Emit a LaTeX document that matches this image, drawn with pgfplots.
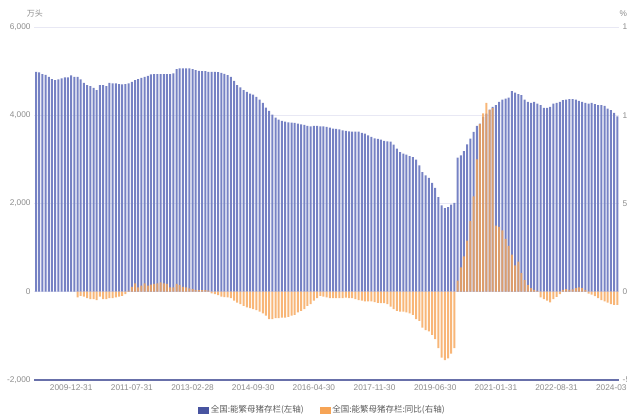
\documentclass[border=0pt]{standalone}
\usepackage{pgfplots}
\pgfplotsset{compat=1.18}
\usepackage{pgfplotstable}
\usepackage{fontspec}
\setmainfont{Liberation Sans}
\newfontfamily\cjk{Noto Sans CJK SC}
\definecolor{cblue}{RGB}{118,130,196}
\definecolor{cbluelg}{RGB}{72,84,160}
\definecolor{corange}{RGB}{246,164,86}
\definecolor{cgrid}{RGB}{232,232,244}
\definecolor{caxis}{RGB}{104,112,170}
\definecolor{ctext}{RGB}{140,140,140}
\definecolor{clegtext}{RGB}{90,90,90}

\pgfplotstableread{
i v
0 4985
1 4970
2 4932
3 4917
4 4871
5 4818
6 4795
7 4811
8 4833
9 4856
10 4856
11 4901
12 4871
13 4871
14 4811
15 4735
16 4682
17 4659
18 4620
19 4568
20 4682
21 4682
22 4659
23 4735
24 4720
25 4720
26 4705
27 4697
28 4705
29 4720
30 4758
31 4795
32 4818
33 4848
34 4871
35 4894
36 4924
37 4932
38 4932
39 4932
40 4932
41 4932
42 4932
43 4947
44 5045
45 5061
46 5061
47 5061
48 5061
49 5045
50 5023
51 5008
52 5000
53 5000
54 4985
55 4985
56 4985
57 4977
58 4962
59 4940
60 4909
61 4871
62 4780
63 4682
64 4629
65 4568
66 4530
67 4492
68 4470
69 4417
70 4356
71 4280
72 4174
73 4098
74 4015
75 3947
76 3902
77 3871
78 3856
79 3841
80 3833
81 3826
82 3811
83 3795
84 3780
85 3758
86 3750
87 3758
88 3758
89 3750
90 3750
91 3735
92 3720
93 3697
94 3689
95 3682
96 3659
97 3644
98 3636
99 3629
100 3629
101 3629
102 3598
103 3583
104 3545
105 3508
106 3477
107 3462
108 3447
109 3417
110 3409
111 3402
112 3333
113 3242
114 3167
115 3129
116 3106
117 3076
118 3053
119 2992
120 2864
121 2712
122 2636
123 2583
124 2470
125 2356
126 2144
127 1955
128 1894
129 1917
130 1977
131 2015
132 3038
133 3091
134 3189
135 3341
136 3470
137 3621
138 3758
139 3811
140 3962
141 4038
142 4129
143 4189
144 4227
145 4303
146 4356
147 4379
148 4402
149 4545
150 4515
151 4477
152 4455
153 4356
154 4303
155 4280
156 4303
157 4265
158 4227
159 4167
160 4167
161 4189
162 4265
163 4280
164 4303
165 4341
166 4356
167 4364
168 4364
169 4356
170 4326
171 4303
172 4280
173 4265
174 4280
175 4250
176 4227
177 4227
178 4212
179 4152
180 4114
181 4053
182 3977
}\bluedata

\pgfplotstableread{
i p
13 -3.2
14 -2.3
15 -2.8
16 -3.6
17 -4.2
18 -4.2
19 -4.7
20 -2.8
21 -4.2
22 -4.2
23 -3.6
24 -3.6
25 -3.2
26 -2.8
27 -2.3
28 -1.3
29 0.6
30 2.8
31 4.7
32 2.5
33 3.4
34 4.7
35 3.4
36 4.0
37 4.4
38 4.7
39 5.3
40 4.7
41 4.4
42 2.5
43 2.5
44 4.4
45 3.8
46 2.8
47 2.5
48 1.9
49 1.5
50 1.1
51 0.9
52 0.9
53 0.9
54 0.6
55 -0.9
56 -1.3
57 -1.9
58 -2.8
59 -3.0
60 -3.2
61 -3.6
62 -5.1
63 -6.1
64 -7.0
65 -8.0
66 -8.9
67 -9.3
68 -9.8
69 -10.4
70 -11.2
71 -12.3
72 -13.6
73 -15.5
74 -15.5
75 -15.0
76 -15.0
77 -14.6
78 -14.6
79 -14.2
80 -13.6
81 -13.1
82 -11.7
83 -10.8
84 -9.8
85 -8.0
86 -7.0
87 -5.1
88 -3.6
89 -2.3
90 -2.8
91 -3.2
92 -3.6
93 -3.6
94 -3.6
95 -3.6
96 -3.6
97 -3.4
98 -3.6
99 -3.6
100 -4.2
101 -4.7
102 -5.1
103 -5.5
104 -5.5
105 -5.5
106 -5.9
107 -6.3
108 -6.4
109 -6.4
110 -7.0
111 -8.5
112 -9.8
113 -10.8
114 -11.2
115 -11.2
116 -11.7
117 -12.3
118 -13.1
119 -15.5
120 -16.5
121 -20.3
122 -21.8
123 -22.5
124 -24.4
125 -26.9
126 -32.0
127 -37.3
128 -38.8
129 -37.7
130 -35.0
131 -32.0
132 6.3
133 13.8
134 20.0
135 29.0
136 40.0
137 54.0
138 75.0
139 95.0
140 101.0
141 107.0
142 103.0
143 104.0
144 37.5
145 36.7
146 34.7
147 30.0
148 26.0
149 21.0
150 15.0
151 17.0
152 10.5
153 6.6
154 3.8
155 2.0
156 1.0
157 0.5
158 -3.2
159 -4.2
160 -5.1
161 -6.0
162 -4.2
163 -2.9
164 -1.3
165 1.0
166 1.5
167 1.0
168 1.4
169 2.0
170 2.5
171 2.0
172 1.0
173 -1.0
174 -1.7
175 -2.5
176 -3.6
177 -4.7
178 -5.5
179 -6.2
180 -7.0
181 -7.4
182 -7.5
}\orangedata

\begin{document}
\begin{tikzpicture}
\useasboundingbox (0,0) rectangle (627pt,417pt);
\pgfplotsset{
  commonaxis/.style={
    scale only axis, width=585.1pt, height=353pt,
    at={(34.1pt,37pt)}, anchor=south west,
    xmin=-0.6, xmax=182.6,
    tick style={draw=none}, major tick length=0pt,
    ticklabel style={font=\fontsize{8.3}{10}\selectfont, text=ctext},
  }
}
\begin{axis}[commonaxis,
  ymin=-2000, ymax=6000,
  axis x line*=bottom, axis y line*=left,
  x axis line style={draw=caxis, line width=1.3pt, -},
  y axis line style={draw=none},
  ytick={-2000,0,2000,4000,6000},
  yticklabels={{-2,000},{0},{2,000},{4,000},{6,000}},
  xtick={11,30,49,68,87,106,125,144,163,182},
  xticklabels={2009-12-31,2011-07-31,2013-02-28,2014-09-30,2016-04-30,2017-11-30,2019-06-30,2021-01-31,2022-08-31,2024-03-31},
  xticklabel style={yshift=-1pt},
  ymajorgrids, grid style={cgrid, line width=0.7pt},
]
\addplot[ybar, bar width=2pt, fill=cblue, draw=none] table[x=i,y=v]{\bluedata};
\end{axis}
\begin{axis}[commonaxis,
  ymin=-50, ymax=150,
  axis y line*=right, axis x line=none,
  y axis line style={draw=none},
  ytick={-50,0,50,100,150},
  yticklabels={{-50},{0},{50},{100},{150}},
  xtick=\empty,
  legend style={at={(0.493,-0.085)}, anchor=center, draw=none, fill=none,
    legend columns=2, font=\cjk\fontsize{8.5}{10}\selectfont, text=clegtext,
    /tikz/every even column/.append style={column sep=14pt}},
  legend cell align=left,
]
\addplot[ybar, bar width=2pt, fill=corange, fill opacity=0.8, draw=none, forget plot] table[x=i,y=p]{\orangedata};
\addlegendimage{legend image code/.code={\fill[cbluelg] (0pt,-3pt) rectangle (10pt,3pt);}}
\addlegendentry{全国:能繁母猪存栏(左轴)}
\addlegendimage{legend image code/.code={\fill[corange] (0pt,-3pt) rectangle (10pt,3pt);}}
\addlegendentry{全国:能繁母猪存栏:同比(右轴)}
\end{axis}
\node[text=ctext, font=\cjk\fontsize{8}{9}\selectfont] at (35pt,403pt) {万头};
\node[text=ctext, font=\fontsize{8.3}{10}\selectfont, anchor=west] at (616pt,403pt) {\%};
\end{tikzpicture}
\end{document}
